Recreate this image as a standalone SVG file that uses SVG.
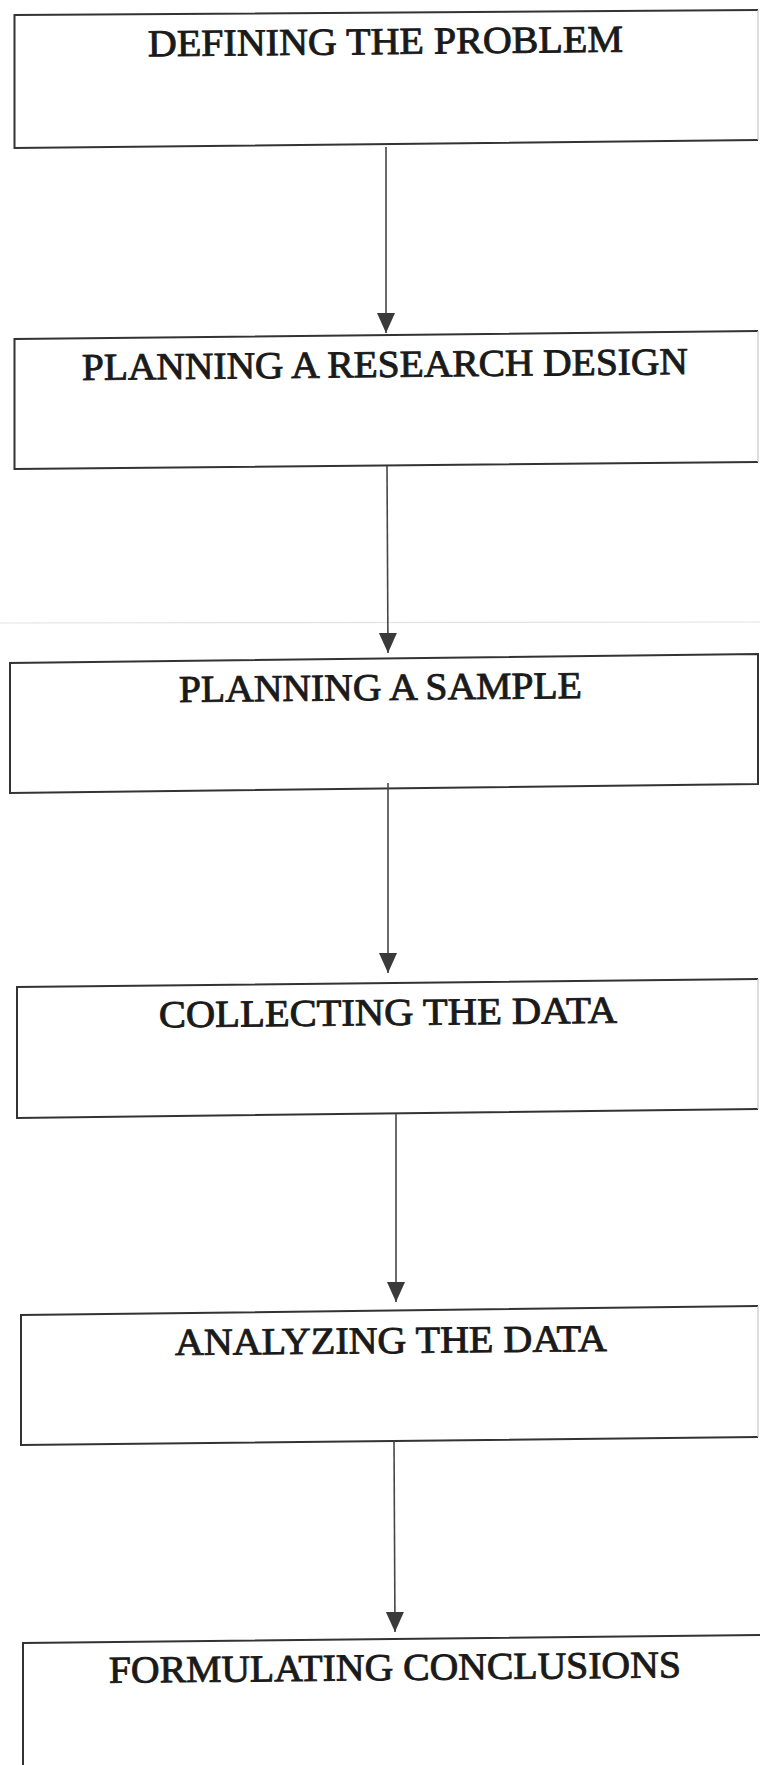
<svg xmlns="http://www.w3.org/2000/svg" width="760" height="1765" viewBox="0 0 760 1765">
  <style>
    .box { fill: none; stroke: #333333; stroke-width: 2; stroke-linejoin: miter; }
    .edge { fill: none; stroke: #c8c8c8; stroke-width: 1.2; }
    .label { font-family: "Liberation Serif", "Times New Roman", serif; font-size: 38px; fill: #1a1a1a; stroke: #1a1a1a; stroke-width: 0.9; text-anchor: middle; }
    .link { fill: none; stroke: #474747; stroke-width: 1.6; }
    .fold { stroke: #e2e2e2; stroke-width: 1.2; }
  </style>
  <defs>
    <marker id="head" markerUnits="userSpaceOnUse" viewBox="0 -10 21 20" markerWidth="21" markerHeight="20" refX="20" refY="0" orient="auto">
      <path d="M0,-9 L20,0 L0,9 Z" fill="#3a3a3a"/>
    </marker>
  </defs>

  <rect x="0" y="0" width="760" height="1765" fill="#ffffff"/>
  <line class="fold" x1="0" y1="623" x2="760" y2="622"/>

  <g id="node-defining">
    <path class="box" d="M758,10 L14.5,15 L14.5,148 L758,140"/>
    <line class="edge" x1="758" y1="10" x2="758" y2="140"/>
    <text class="label" x="385.5" y="54" textLength="475" lengthAdjust="spacingAndGlyphs" transform="rotate(-0.55 385.5 54)">DEFINING THE PROBLEM</text>
  </g>

  <g id="node-design">
    <path class="box" d="M758,331 L14.5,339 L14.5,469 L758,462"/>
    <line class="edge" x1="758" y1="331" x2="758" y2="462"/>
    <text class="label" x="385" y="377" textLength="606" lengthAdjust="spacingAndGlyphs" transform="rotate(-0.55 385 377)">PLANNING A RESEARCH DESIGN</text>
  </g>

  <g id="node-sample">
    <path class="box" d="M758,654 L10,663 L10,793 L758,784 Z"/>
    <text class="label" x="380.5" y="700" textLength="403" lengthAdjust="spacingAndGlyphs" transform="rotate(-0.55 380.5 700)">PLANNING A SAMPLE</text>
  </g>

  <g id="node-collecting">
    <path class="box" d="M758,979 L17,987 L17,1118 L758,1109"/>
    <line class="edge" x1="758" y1="979" x2="758" y2="1109"/>
    <text class="label" x="388" y="1025" textLength="458" lengthAdjust="spacingAndGlyphs" transform="rotate(-0.55 388 1025)">COLLECTING THE DATA</text>
  </g>

  <g id="node-analyzing">
    <path class="box" d="M758,1306 L21,1315 L21,1445 L758,1437"/>
    <line class="edge" x1="758" y1="1306" x2="758" y2="1437"/>
    <text class="label" x="391" y="1353" textLength="432" lengthAdjust="spacingAndGlyphs" transform="rotate(-0.55 391 1353)">ANALYZING THE DATA</text>
  </g>

  <g id="node-conclusions">
    <path class="box" d="M760,1635 L23,1643 L23,1770"/>
    <text class="label" x="395" y="1680" textLength="572" lengthAdjust="spacingAndGlyphs" transform="rotate(-0.55 395 1680)">FORMULATING CONCLUSIONS</text>
  </g>

  <g id="connectors">
    <line class="link" x1="386" y1="147" x2="386" y2="333" marker-end="url(#head)"/>
    <line class="link" x1="387" y1="466" x2="388" y2="653" marker-end="url(#head)"/>
    <line class="link" x1="388" y1="783" x2="388" y2="973" marker-end="url(#head)"/>
    <line class="link" x1="396" y1="1114" x2="396" y2="1302" marker-end="url(#head)"/>
    <line class="link" x1="394" y1="1441" x2="395" y2="1632" marker-end="url(#head)"/>
  </g>
</svg>
